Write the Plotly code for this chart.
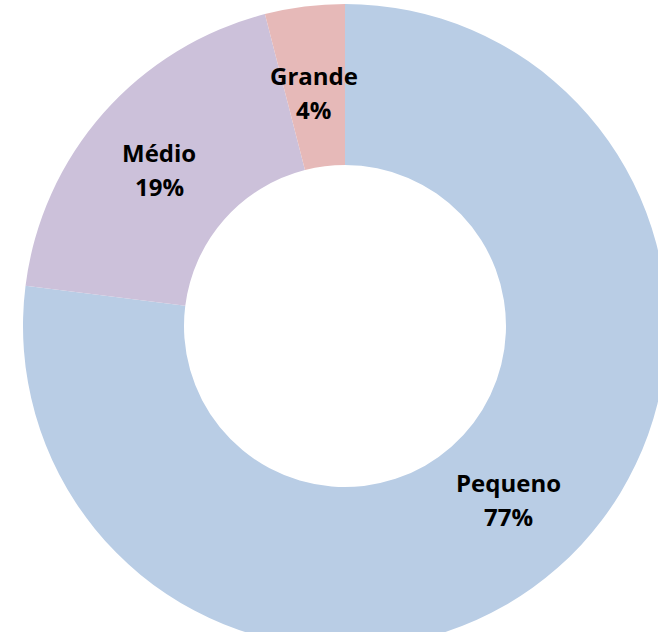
import math
import plotly.graph_objects as go

categories = ["Pequeno", "Médio", "Grande"]
values = [77, 19, 4]
colors = ["#B9CDE5", "#CCC1DA", "#E6B9B8"]

HOLE = 0.5
R = 322          # pie radius in px
CY = 326         # pie centre y (px from top)
W = 690
H = CY + R
TOP = CY - R

fig = go.Figure(go.Pie(
    labels=categories,
    values=values,
    hole=HOLE,
    sort=False,
    direction="clockwise",
    rotation=0,
    marker=dict(colors=colors, line=dict(width=0)),
    textinfo="none",
    showlegend=False,
    hoverinfo="label+percent",
    domain=dict(x=[0, 1], y=[0, 1]),
))

# labels at mid-ring, on each slice's mid angle (derived from the data)
total = sum(values)
cum = 0.0
annotations = []
rx_lab = R * 0.77
ry_lab = R * 0.725
font = dict(family="Open Sans", size=24, color="#000000")
for name, v in zip(categories, values):
    mid = (cum + v / 2) / total * 2 * math.pi
    cum += v
    xp = 0.5 + rx_lab * math.sin(mid) / W
    yp = 0.5 + (ry_lab * math.cos(mid) + 2) / (2 * R)
    pct = f"{round(v / total * 100)}%"
    annotations.append(dict(x=xp, y=yp, xref="paper", yref="paper", text=f"<b>{name}</b>",
                            showarrow=False, font=font, xanchor="center", yanchor="middle", yshift=17))
    annotations.append(dict(x=xp, y=yp, xref="paper", yref="paper", text=f"<b>{pct}</b>",
                            showarrow=False, font=font, xanchor="center", yanchor="middle", yshift=-17))

fig.update_layout(
    width=W, height=H, autosize=False,
    margin=dict(l=0, r=0, t=TOP, b=0, pad=0),
    paper_bgcolor="white", plot_bgcolor="white",
    annotations=annotations,
)

fig.write_html(
    "out.html",
    config={"displayModeBar": False},
    post_script="document.body.style.margin='0';document.body.style.overflow='hidden';document.documentElement.style.overflow='hidden';",
)
